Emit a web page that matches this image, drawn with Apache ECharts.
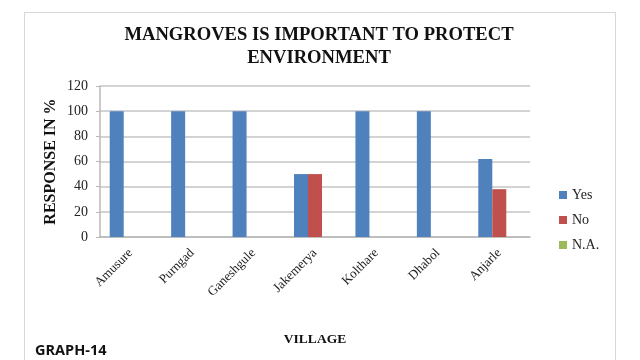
<!DOCTYPE html>
<html>
<head>
<meta charset="utf-8">
<script src="https://cdn.jsdelivr.net/npm/echarts@6/dist/echarts.min.js"></script>
<style>html,body{margin:0;padding:0;background:#fff}#c{width:640px;height:360px}</style>
</head>
<body>
<div id="c"></div>
<script>
// Survey responses per village (percent)
const villages = ['Amusure', 'Purngad', 'Ganeshgule', 'Jakemerya', 'Kolthare', 'Dhabol', 'Anjarle'];
const yesValues = [100, 100, 100, 50, 100, 100, 62];
const noValues = [0, 0, 0, 50, 0, 0, 38];
const naValues = [0, 0, 0, 0, 0, 0, 0];
const yTicks = [0, 20, 40, 60, 80, 100, 120];

const serif = '"Liberation Serif", "DejaVu Serif", serif';
const chart = echarts.init(document.getElementById('c'));

chart.setOption({
  animation: false,
  title: {
    text: 'MANGROVES IS IMPORTANT TO PROTECT\nENVIRONMENT',
    left: 314, top: 19, textAlign: 'center',
    textStyle: { fontFamily: serif, fontWeight: 'bold', fontSize: 18.6, lineHeight: 23, color: '#111' }
  },
  graphic: [
    { type: 'rect', left: 22, top: 10, shape: { width: 591, height: 370 },
      style: { fill: 'none', stroke: '#b0b0b0', lineWidth: 1, lineDash: [1, 1] }, silent: true },
    { type: 'text', left: 35, top: 343,
      style: { text: 'GRAPH-14', font: 'bold 14.5px "Open Sans", "DejaVu Sans", sans-serif', fill: '#111' } }
  ],
  legend: {
    orient: 'vertical', left: 554, top: 183,
    itemWidth: 8, itemHeight: 8, itemGap: 11, icon: 'rect',
    textStyle: { fontFamily: serif, fontSize: 14, color: '#222', padding: [0, 0, 0, 0] },
    data: ['Yes', 'No', 'N.A.']
  },
  grid: { left: 100, right: 110, top: 86, bottom: 123 },
  xAxis: {
    type: 'category', data: villages,
    name: 'VILLAGE', nameLocation: 'middle', nameGap: 96,
    nameTextStyle: { fontFamily: serif, fontWeight: 'bold', fontSize: 13.5, color: '#111' },
    axisLine: { lineStyle: { color: '#b8b8b8', width: 1.5 } },
    axisTick: { show: false },
    axisLabel: { rotate: 45, fontFamily: serif, fontSize: 13, color: '#222', margin: 14 }
  },
  yAxis: {
    type: 'value', min: 0, max: 120, interval: 20,
    name: 'RESPONSE IN %', nameLocation: 'middle', nameGap: 41, nameMoveOverlap: false,
    nameTextStyle: { fontFamily: serif, fontWeight: 'bold', fontSize: 16, color: '#111' },
    axisLine: { show: true, lineStyle: { color: '#b8b8b8', width: 1.5 } },
    axisTick: { show: true, length: 4, lineStyle: { color: '#b8b8b8' } },
    axisLabel: { fontFamily: serif, fontSize: 14, color: '#222', margin: 12,
      formatter: v => yTicks.includes(v) ? String(v) : '' },
    splitLine: { lineStyle: { color: '#c4c4c4', width: 1.5 } }
  },
  series: [
    { name: 'Yes', type: 'bar', data: yesValues, barWidth: 14, barGap: '0%', itemStyle: { color: '#4F81BD' } },
    { name: 'No', type: 'bar', data: noValues, barWidth: 14, barGap: '0%', itemStyle: { color: '#C0504D' } },
    { name: 'N.A.', type: 'bar', data: naValues, barWidth: 14, barGap: '0%', itemStyle: { color: '#9BBB59' } }
  ]
});
</script>
</body>
</html>
